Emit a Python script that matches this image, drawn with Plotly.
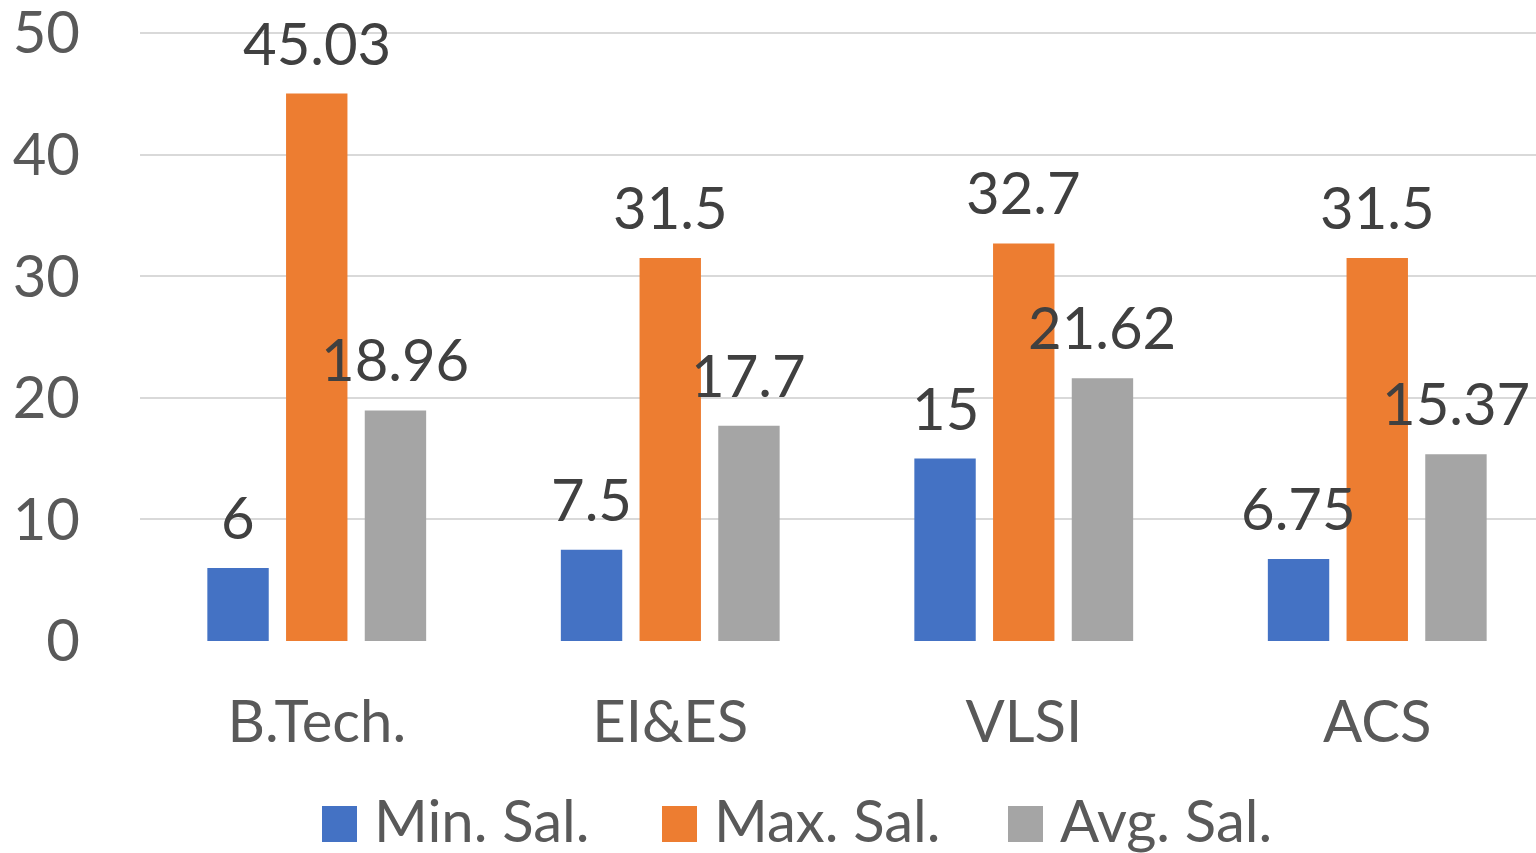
import plotly.graph_objects as go

# Salary figures per programme (LPA)
programmes = ["B.Tech.", "EI&ES", "VLSI", "ACS"]
min_sal = [6, 7.5, 15, 6.75]
max_sal = [45.03, 31.5, 32.7, 31.5]
avg_sal = [18.96, 17.7, 21.62, 15.37]
series_names = ["Min. Sal.", "Max. Sal.", "Avg. Sal."]
y_ticks = [0, 10, 20, 30, 40, 50]

colors = ["#4472C4", "#ED7D31", "#A5A5A5"]
FONT = "Lato, Calibri, sans-serif"
W, H = 1536, 853
Y_TOP = 50.5
ML, MR, MB = 140, 0, 212
PX_PER_UNIT = 608 / 50
MT = int(round(H - MB - Y_TOP * PX_PER_UNIT))
BARGAP, GROUPGAP = 0.332, 0.22
CAT_PX = 353.5

x_pos = list(range(len(programmes)))
series = [min_sal, max_sal, avg_sal]

fig = go.Figure()
for name, vals, col in zip(series_names, series, colors):
    fig.add_trace(go.Bar(x=x_pos, y=vals, name=name, marker=dict(color=col, line=dict(width=0)),
                         showlegend=False))

# value labels above each bar
slot = (1 - BARGAP) / len(series)
annotations = []
for k, vals in enumerate(series):
    off = (k - (len(series) - 1) / 2) * slot
    for i, v in enumerate(vals):
        annotations.append(dict(x=i + off, y=v, xref="x", yref="y", text=f"{v:g}",
                                showarrow=False, yanchor="bottom", yshift=15,
                                font=dict(family=FONT, size=58, color="#404040")))

# legend drawn as squares plus labels beneath the plot
plot_w = W - ML - MR
plot_h = H - MT - MB
def px_x(px):
    return (px - ML) / plot_w
def px_y(py):
    return (H - MB - py) / plot_h

legend_left = [322, 662, 1008]
shapes = []
for left, name, col in zip(legend_left, series_names, colors):
    shapes.append(dict(type="rect", xref="paper", yref="paper",
                       x0=px_x(left), x1=px_x(left + 35), y0=px_y(842), y1=px_y(806),
                       fillcolor=col, line=dict(width=0)))
    annotations.append(dict(x=px_x(left + 50), y=px_y(819), xref="paper", yref="paper",
                            text=name, showarrow=False, xanchor="left", yanchor="middle",
                            font=dict(family=FONT, size=58, color="#595959")))

fig.update_layout(
    width=W, height=H,
    margin=dict(l=ML, r=MR, t=MT, b=MB, pad=0, autoexpand=False),
    paper_bgcolor="white", plot_bgcolor="white",
    barmode="group", bargap=BARGAP, bargroupgap=GROUPGAP,
    annotations=annotations, shapes=shapes,
    showlegend=False,
    font=dict(family=FONT),
)
fig.update_xaxes(range=[-0.5, -0.5 + plot_w / CAT_PX], tickmode="array", tickvals=x_pos,
                 ticktext=programmes, showgrid=False, zeroline=False, showline=False,
                 ticks="", ticklabelstandoff=42, ticklabeloverflow="allow", automargin=False,
                 tickfont=dict(family=FONT, size=58, color="#595959"))
fig.update_yaxes(range=[0, Y_TOP], tickmode="array", tickvals=y_ticks, showgrid=True,
                 gridcolor="#D9D9D9", gridwidth=2, zeroline=False, showline=False,
                 ticks="", ticklabelstandoff=59, ticklabeloverflow="allow", automargin=False,
                 tickfont=dict(family=FONT, size=58, color="#595959"))

fig.write_html("out.html")
